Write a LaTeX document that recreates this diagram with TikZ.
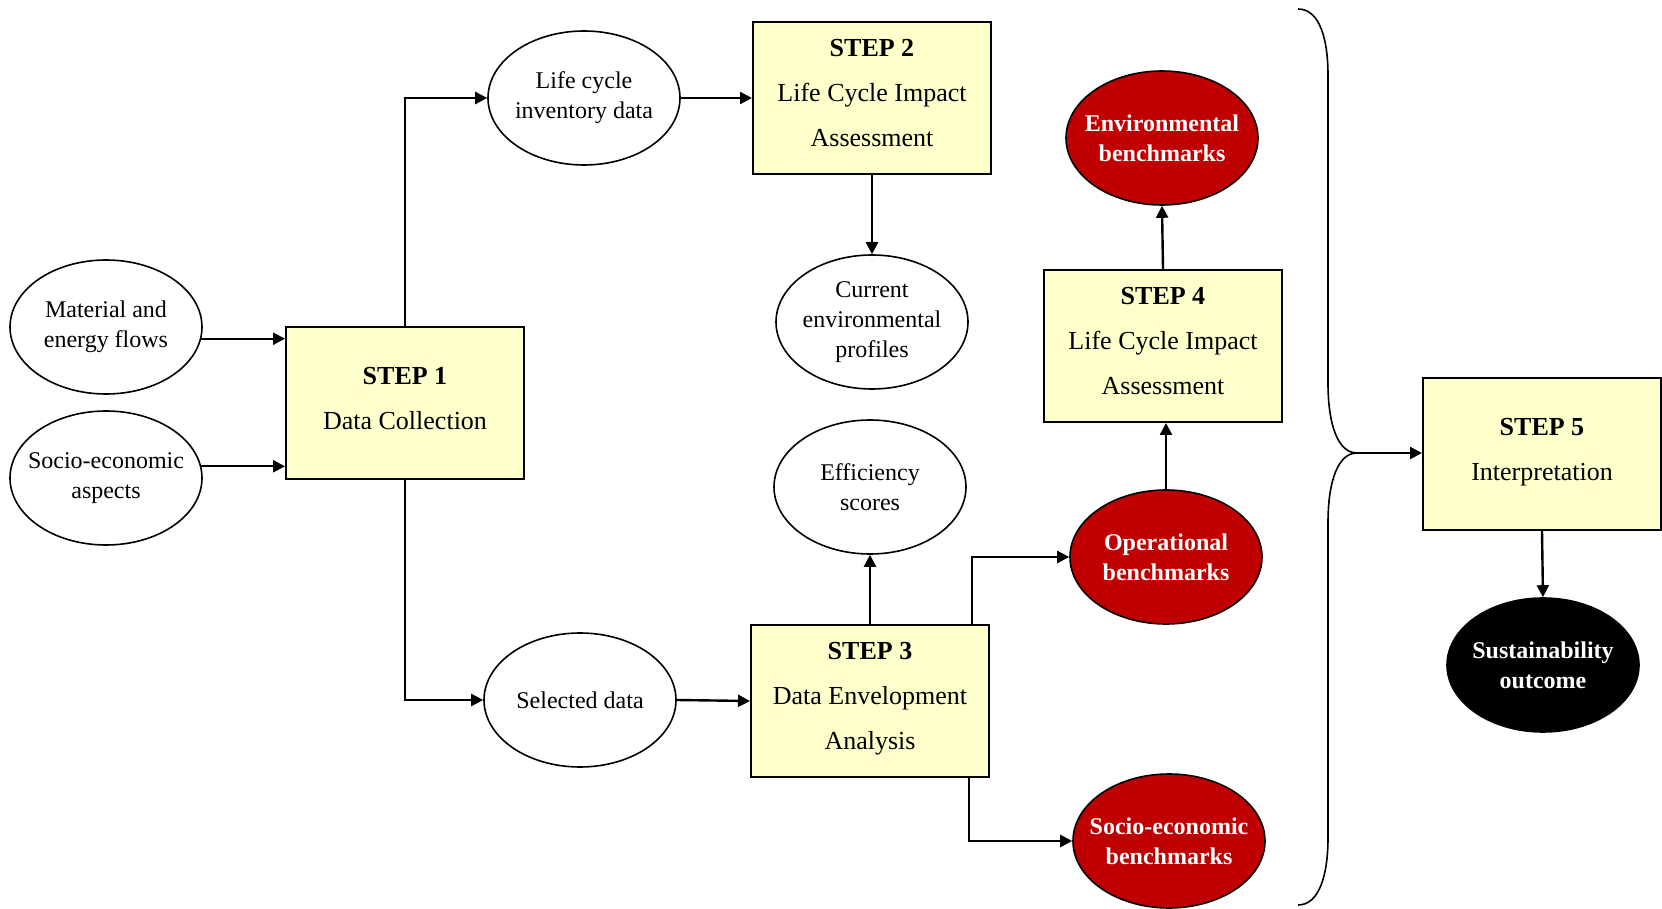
\documentclass[tikz,border=0pt]{standalone}
\usepackage{fontspec}
\setmainfont{Liberation Serif}
\usetikzlibrary{shapes.geometric,arrows.meta}
\definecolor{stepyellow}{HTML}{FFFFCC}
\definecolor{benchred}{HTML}{C00000}
\begin{document}
\begin{tikzpicture}
		[x=0.5pt,y=-0.5pt,
		stepbox/.style={draw,line width=1pt,fill=stepyellow,minimum width=119pt,minimum height=76pt,text depth=5pt,align=center,font=\fontsize{13}{22.5}\selectfont},
		data/.style={ellipse,draw,line width=0.8pt,minimum width=96pt,minimum height=67pt,inner xsep=-14pt,inner ysep=0pt,align=center,font=\fontsize{12}{15}\selectfont},
		bench/.style={data,fill=benchred,text=white,font=\fontsize{12}{15}\selectfont\bfseries},
		result/.style={bench,fill=black},
		flow/.style={-{Triangle[length=6pt,width=6pt]},line width=1.2pt}]
		\useasboundingbox (0,0) rectangle (1662,909);
		\node[data] (mat) at (106,327) {Material and\\energy flows};
		\node[data] (soc) at (106,478) {Socio-economic\\aspects};
		\node[stepbox] (s1) at (405,403) {\textbf{STEP 1}\\Data Collection};
		\node[data] (lci) at (584,98) {Life cycle\\inventory data};
		\node[stepbox] (s2) at (872,98) {\textbf{STEP 2}\\Life Cycle Impact\\Assessment};
		\node[data] (cur) at (872,322) {Current\\environmental\\profiles};
		\node[data] (sel) at (580,700) {Selected data};
		\node[stepbox] (s3) at (870,701) {\textbf{STEP 3}\\Data Envelopment\\Analysis};
		\node[data] (eff) at (870,487) {Efficiency\\scores};
		\node[bench] (opb) at (1166,557) {Operational\\benchmarks};
		\node[bench] (seb) at (1169,841) {Socio-economic\\benchmarks};
		\node[stepbox] (s4) at (1163,346) {\textbf{STEP 4}\\Life Cycle Impact\\Assessment};
		\node[bench] (envb) at (1162,138) {Environmental\\benchmarks};
		\node[stepbox] (s5) at (1542,454) {\textbf{STEP 5}\\Interpretation};
		\node[result] (sus) at (1543,665) {Sustainability\\outcome};
		\draw[flow] (mat.-7) -- (mat.-7 -| s1.west);
		\draw[flow] (soc.7) -- (soc.7 -| s1.west);
		\draw[flow] (s1.north) |- (lci.west);
		\draw[flow] (lci.east) -- (s2.west);
		\draw[flow] (s2.south) -- (cur.north);
		\draw[flow] (s1.south) |- (sel.west);
		\draw[flow] (sel.east) -- (s3.west);
		\draw[flow] (s3.north) -- (eff.south);
		\draw[flow] ([xshift=-9pt]s3.north east) |- (opb.west);
		\draw[flow] ([xshift=-10.5pt]s3.south east) |- (seb.west);
		\draw[flow] (opb.north) -- (opb.north |- s4.south);
		\draw[flow] (s4.north) -- (envb.south);
		\draw[line width=0.8pt] (1298,9) .. controls (1320,9) and (1328,40) .. (1328,75) -- (1328,383) .. controls (1328,425) and (1338,453) .. (1357,453) coordinate (tip) .. controls (1338,453) and (1328,481) .. (1328,523) -- (1328,838) .. controls (1328,873) and (1320,905) .. (1298,905);
		\draw[flow] (tip) -- (tip -| s5.west);
		\draw[flow] (s5.south) -- (sus.north);
\end{tikzpicture}
\end{document}
